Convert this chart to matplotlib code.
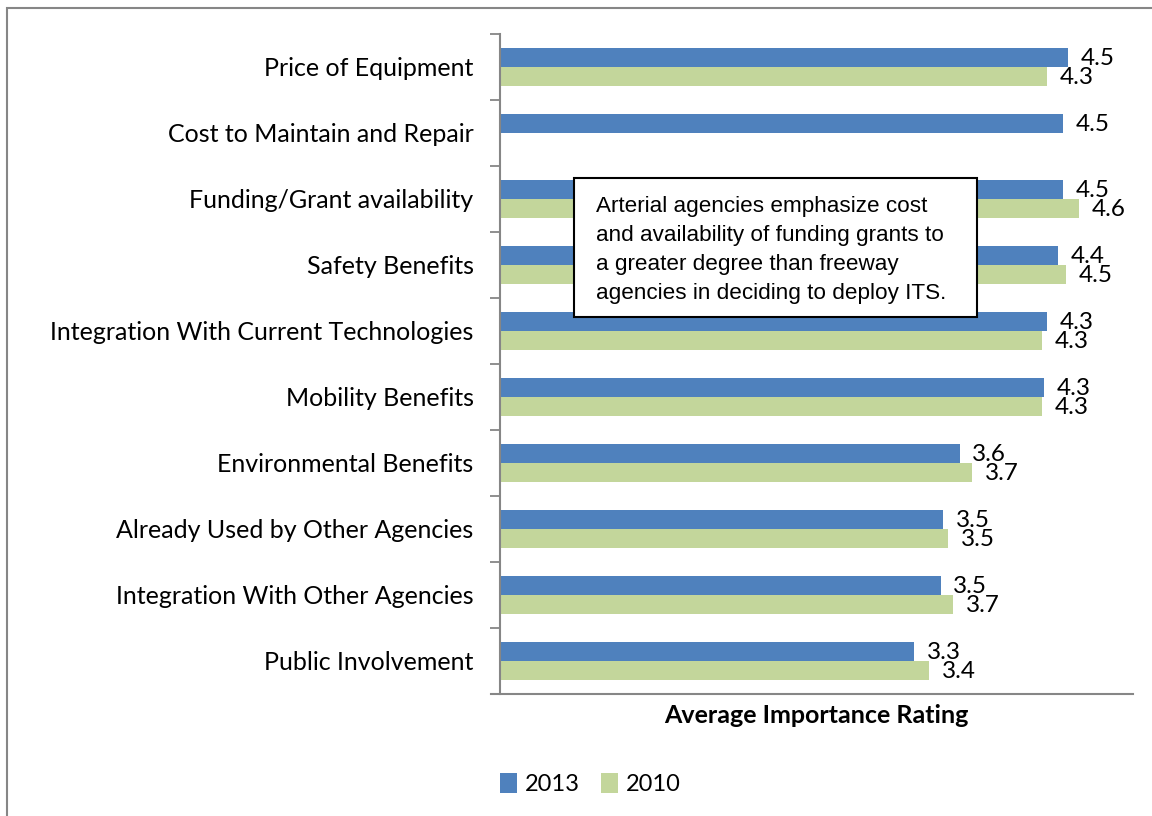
import matplotlib.pyplot as plt
import matplotlib.patches as mpatches
import numpy as np

categories = ["Price of Equipment", "Cost to Maintain and Repair", "Funding/Grant availability",
              "Safety Benefits", "Integration With Current Technologies", "Mobility Benefits",
              "Environmental Benefits", "Already Used by Other Agencies",
              "Integration With Other Agencies", "Public Involvement"]
vals_2013 = [4.49, 4.45, 4.45, 4.41, 4.32, 4.30, 3.63, 3.50, 3.48, 3.27]
vals_2010 = [4.32, np.nan, 4.57, 4.47, 4.28, 4.28, 3.73, 3.54, 3.58, 3.39]
labels_2013 = ["4.5", "4.5", "4.5", "4.4", "4.3", "4.3", "3.6", "3.5", "3.5", "3.3"]
labels_2010 = ["4.3", "", "4.6", "4.5", "4.3", "4.3", "3.7", "3.5", "3.7", "3.4"]
note = ("Arterial agencies emphasize cost\nand availability of funding grants to\n"
        "a greater degree than freeway\nagencies in deciding to deploy ITS.")

blue = "#4F81BD"
green = "#C3D69B"
gray = "#868686"
font = ["Lato", "DejaVu Sans"]

plt.rcParams['font.family'] = font

fig = plt.figure(figsize=(11.52, 8.16), dpi=100)
ax = fig.add_axes([500 / 1152, 1 - 694 / 816, 633 / 1152, 660 / 816])

y = np.arange(len(categories))
h = 0.288
ax.barh(y - h / 2, vals_2013, height=h, color=blue, label="2013")
ax.barh(y + h / 2, vals_2010, height=h, color=green, label="2010")

for i in range(len(categories)):
    ax.text(vals_2013[i] + 0.1, y[i] - h / 2 + 0.02, labels_2013[i], va='center',
            ha='left', fontsize=17.5)
    if labels_2010[i]:
        ax.text(vals_2010[i] + 0.1, y[i] + h / 2 + 0.02, labels_2010[i], va='center',
                ha='left', fontsize=17.5)

ax.set_xlim(0, 5)
ax.set_ylim(len(categories) - 0.5, -0.5)
ax.set_xticks([])
ax.set_yticks(np.arange(len(categories) + 1) - 0.5)
ax.set_yticklabels([])
ax.set_yticks(y, minor=True)
ax.set_yticklabels(categories, minor=True, fontsize=18)
ax.tick_params(axis='y', which='major', length=7, width=1.3, color=gray, direction='out')
ax.tick_params(axis='y', which='minor', length=0, pad=19)
for s in ['top', 'right']:
    ax.spines[s].set_visible(False)
for s in ['left', 'bottom']:
    ax.spines[s].set_color(gray)
    ax.spines[s].set_linewidth(1.5)
ax.spines['bottom'].set_bounds(-0.07, 5)
ax.set_xlabel("Average Importance Rating", fontsize=18, fontweight='bold', labelpad=7)

# note box
box = mpatches.Rectangle((0.117, 0.571), 0.637, 0.211, transform=ax.transAxes,
                         facecolor='white', edgecolor='black', lw=1.5, zorder=5)
ax.add_patch(box)
ax.text(0.1517, 0.755, note, transform=ax.transAxes, va='top', ha='left', fontsize=16.2,
        family=["Liberation Sans", "DejaVu Sans"], linespacing=1.5, zorder=6)

fig.legend(loc='center', bbox_to_anchor=(590 / 1152, 1 - 784 / 816), ncol=2, frameon=False,
           fontsize=17, handlelength=0.75, handleheight=0.9, handletextpad=0.3,
           columnspacing=0.9)

frame = mpatches.Rectangle((7 / 1152, -0.2), 1.2, 1.2 - 8 / 816, transform=fig.transFigure,
                           fill=False, edgecolor=gray, lw=1.5)
fig.patches.append(frame)

fig.savefig("out.png", dpi=100)
